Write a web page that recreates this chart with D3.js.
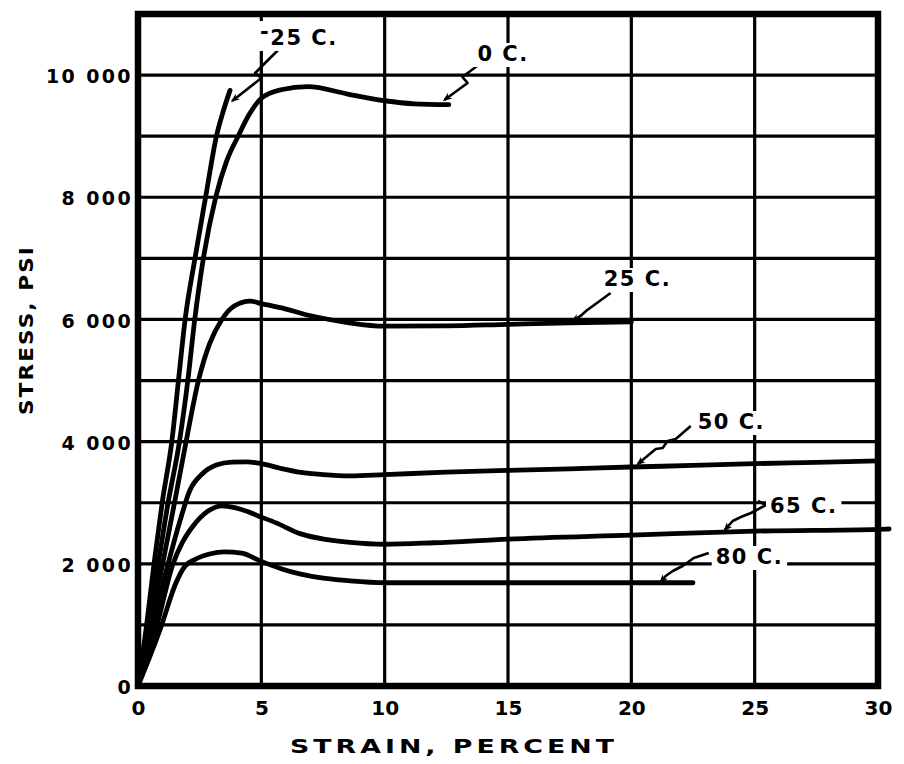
<!DOCTYPE html>
<html>
<head>
<meta charset="utf-8">
<script src="https://cdn.jsdelivr.net/npm/d3@7"></script>
<style>
  html, body { margin: 0; padding: 0; background: #fff; }
  svg { display: block; }
  text { font-family: "DejaVu Sans", sans-serif; font-weight: bold; fill: #000; }
</style>
</head>
<body>
<svg id="chart" width="904" height="764"></svg>
<script>
// Axis ticks and grid
const strainTicks = [0, 5, 10, 15, 20, 25, 30];
const stressTicks = [0, 2000, 4000, 6000, 8000, 10000];
const strainGrid = [5, 10, 15, 20, 25];
const stressGrid = [1000, 2000, 3000, 4000, 5000, 6000, 7000, 8000, 9000, 10000];

// Stress-strain curves, strain in percent, stress in psi
const strainM25 = [0, 0.35, 0.65, 0.98, 1.37, 1.64, 1.91, 2.31, 2.74, 3.18, 3.45, 3.73];
const stressM25 = [0, 1000, 2000, 3000, 4000, 5000, 6000, 7000, 8000, 9000, 9400, 9750];

const strain0 = [0, 0.42, 0.82, 1.22, 1.68, 2.02, 2.3, 2.65, 3.15, 3.6, 4.06, 4.5, 5.0, 5.8, 6.9, 8.5, 10.0, 11.2, 12.6];
const stress0 = [0, 1000, 2000, 3000, 4000, 5000, 6000, 7000, 8000, 8600, 9000, 9350, 9620, 9760, 9810, 9690, 9580, 9530, 9515];

const strain25 = [0, 0.5, 1.0, 1.48, 1.95, 2.45, 2.9, 3.4, 3.9, 4.55, 5.0, 6.0, 7.0, 8.5, 10, 12.5, 15, 17.5, 20];
const stress25 = [0, 1000, 2000, 3000, 4000, 5000, 5600, 6000, 6220, 6300, 6260, 6170, 6060, 5950, 5890, 5895, 5920, 5945, 5960];

const strain50 = [0, 0.6, 1.22, 1.7, 2.1, 2.6, 3.2, 3.8, 4.4, 5.0, 5.8, 6.6, 7.5, 8.6, 10, 12.5, 15, 17.5, 20, 22.5, 25, 27.5, 30];
const stress50 = [0, 1000, 2000, 2700, 3200, 3470, 3620, 3665, 3670, 3640, 3560, 3495, 3460, 3440, 3460, 3500, 3530, 3555, 3585, 3610, 3640, 3660, 3685];

const strain65 = [0, 0.77, 1.42, 1.8, 2.18, 2.84, 3.4, 4.2, 4.9, 5.6, 6.6, 7.6, 8.6, 10, 12, 15, 20, 25, 30, 30.45];
const stress65 = [0, 1000, 2000, 2350, 2590, 2865, 2950, 2890, 2780, 2670, 2490, 2400, 2350, 2320, 2345, 2405, 2470, 2535, 2565, 2570];

const strain80 = [0, 0.96, 1.5, 1.9, 2.3, 2.9, 3.5, 4.2, 5.0, 5.8, 6.6, 7.6, 8.6, 10, 15, 20, 22.5];
const stress80 = [0, 1000, 1650, 1960, 2070, 2160, 2195, 2175, 2040, 1920, 1830, 1760, 1720, 1690, 1690, 1690, 1690];

// Curve labels: text, anchor (strain, stress) of the text start, and the leader line points
const labelText = ["-25 C.", "0 C.", "25 C.", "50 C.", "65 C.", "80 C."];
const labelStrain = [4.95, 13.76, 18.88, 22.69, 25.62, 23.42];
const labelStress = [10493, 10231, 6548, 4207, 2832, 1997];
const leaderM25 = [[5.68, 10411], [4.75, 10034], [5.0, 9952], [3.82, 9576]];
const leader0 = [[13.8, 10165], [13.15, 9969], [13.36, 9871], [12.42, 9593]];
const leader25 = [[19.16, 6433], [18.55, 6253], [18.2, 6150], [17.94, 6057], [17.62, 5975]];
const leader50 = [[22.41, 4256], [21.8, 4043], [21.47, 4010], [21.27, 3896], [20.99, 3879], [20.26, 3634]];
const leader65 = [[25.13, 3028], [25.46, 2963], [24.85, 2832], [24.44, 2766], [24.11, 2701], [23.79, 2554]];
const leader80 = [[23.14, 2177], [22.53, 2095], [22.08, 1964], [21.68, 1882], [21.39, 1801], [21.19, 1702]];

const series = [
  [strainM25, stressM25],
  [strain0, stress0],
  [strain25, stress25],
  [strain50, stress50],
  [strain65, stress65],
  [strain80, stress80]
].map(([xs, ys]) => xs.map((x, i) => [x, ys[i]]));
const leaders = [leaderM25, leader0, leader25, leader50, leader65, leader80];

const svg = d3.select("#chart");
const x = d3.scaleLinear().domain([0, 30]).range([138, 878]);
const y = d3.scaleLinear().domain([0, 11000]).range([686, 14]);

svg.append("rect").attr("width", 904).attr("height", 764).attr("fill", "#fff");

// arrowhead used at the end of each leader
svg.append("defs").append("marker")
  .attr("id", "tip")
  .attr("viewBox", "0 0 10 10")
  .attr("refX", 8).attr("refY", 5)
  .attr("markerWidth", 11).attr("markerHeight", 9)
  .attr("markerUnits", "userSpaceOnUse")
  .attr("orient", "auto")
  .append("path").attr("d", "M0,1 L10,5 L0,9 L3,5 Z").attr("fill", "#000");

// grid
const grid = svg.append("g").attr("stroke", "#000").attr("stroke-width", 3.2);
grid.selectAll("line.v").data(strainGrid).join("line")
  .attr("class", "v")
  .attr("x1", d => x(d)).attr("x2", d => x(d))
  .attr("y1", y(11000)).attr("y2", y(0));
grid.selectAll("line.h").data(stressGrid).join("line")
  .attr("class", "h")
  .attr("x1", x(0)).attr("x2", x(30))
  .attr("y1", d => y(d)).attr("y2", d => y(d));

// frame
svg.append("rect")
  .attr("x", x(0)).attr("y", y(11000))
  .attr("width", x(30) - x(0)).attr("height", y(0) - y(11000))
  .attr("fill", "none").attr("stroke", "#000").attr("stroke-width", 6.5);

// axes (labels only)
const fmt = d => d3.format(",")(d).replace(",", " ");
const yAxis = svg.append("g")
  .attr("transform", `translate(${x(0) - 5},0)`)
  .call(d3.axisLeft(y).tickValues(stressTicks).tickSize(0).tickPadding(0).tickFormat(fmt));
yAxis.select(".domain").remove();
yAxis.selectAll("text")
  .attr("font-family", "DejaVu Sans").attr("font-weight", "bold")
  .attr("font-size", 19).attr("letter-spacing", 2.4).attr("fill", "#000")
  .attr("dy", "0.4em");

const xAxis = svg.append("g")
  .attr("transform", `translate(0,${y(0)})`)
  .call(d3.axisBottom(x).tickValues(strainTicks).tickSize(0).tickPadding(0));
xAxis.select(".domain").remove();
xAxis.selectAll("text")
  .attr("font-family", "DejaVu Sans").attr("font-weight", "bold")
  .attr("font-size", 20).attr("fill", "#000")
  .attr("y", 15).attr("dy", "0.71em");

svg.append("text")
  .attr("x", 290).attr("y", 753)
  .attr("font-size", 20).attr("letter-spacing", 3)
  .attr("textLength", 328).attr("lengthAdjust", "spacingAndGlyphs")
  .text("STRAIN, PERCENT");

svg.append("text")
  .attr("transform", "translate(33,330) rotate(-90)")
  .attr("text-anchor", "middle")
  .attr("font-size", 20).attr("letter-spacing", 2)
  .attr("textLength", 170).attr("lengthAdjust", "spacingAndGlyphs")
  .text("STRESS, PSI");

// curve labels with a white knockout behind the text
const labels = svg.append("g");
labelText.forEach((t, i) => {
  const g = labels.append("g");
  const txt = g.append("text")
    .attr("x", x(labelStrain[i])).attr("y", y(labelStress[i]))
    .attr("font-size", 21).attr("letter-spacing", 1.5);
  if (t.startsWith("-")) {
    txt.append("tspan").attr("dy", -6).text("-");
    txt.append("tspan").attr("dy", 6).text(t.slice(1));
  } else {
    txt.text(t);
  }
  const b = txt.node().getBBox();
  g.insert("rect", "text")
    .attr("x", b.x - 4).attr("y", b.y + 1)
    .attr("width", b.width + 8).attr("height", b.height)
    .attr("fill", "#fff");
});

// curves
const line = d3.line().x(d => x(d[0])).y(d => y(d[1])).curve(d3.curveMonotoneX);
svg.append("g").selectAll("path").data(series).join("path")
  .attr("d", line)
  .attr("fill", "none").attr("stroke", "#000")
  .attr("stroke-width", 4.8).attr("stroke-linecap", "round").attr("stroke-linejoin", "round");

// leaders
const leaderLine = d3.line().x(d => x(d[0])).y(d => y(d[1]));
svg.append("g").selectAll("path").data(leaders).join("path")
  .attr("d", leaderLine)
  .attr("fill", "none").attr("stroke", "#000")
  .attr("stroke-width", 2.6).attr("stroke-linejoin", "round")
  .attr("marker-end", "url(#tip)");

// keep the curve labels on top
labels.raise();
</script>
</body>
</html>
